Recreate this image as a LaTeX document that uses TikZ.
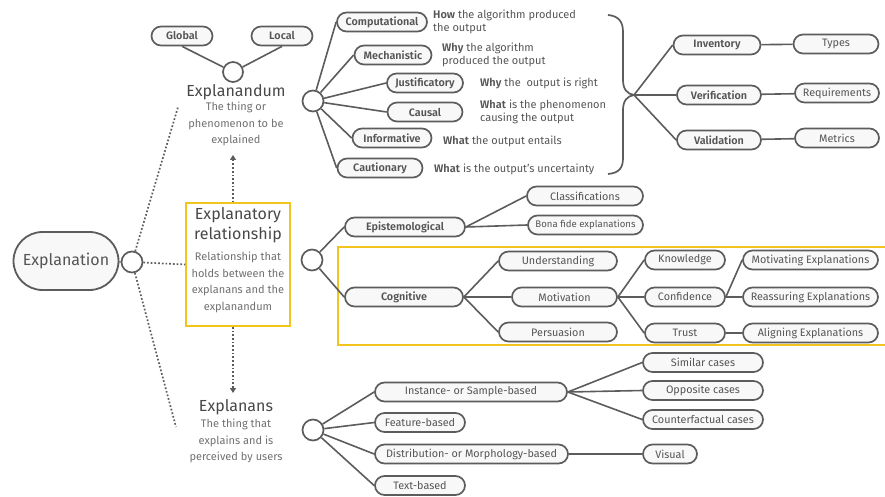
\documentclass[tikz,border=0pt]{standalone}
\usepackage{fontspec}
\setmainfont{Fira Sans}[BoldFont={Fira Sans SemiBold}]
\usetikzlibrary{arrows.meta}
\definecolor{linec}{HTML}{5C5C5C}
\definecolor{txt}{HTML}{555555}
\definecolor{subtxt}{HTML}{707070}
\definecolor{boxfill}{HTML}{F8F8F8}
\definecolor{gold}{HTML}{F2C41E}
\tikzset{
  pill/.style={draw=linec, line width=1.7pt, rectangle, rounded corners=9.5pt,
    fill=boxfill, text=txt, inner sep=0pt, minimum height=19pt,
    font=\fontsize{10.8}{12}\selectfont},
  hub/.style={draw=linec, line width=1.7pt, circle, fill=white,
    minimum size=21pt, inner sep=0pt},
  link/.style={draw=linec, line width=1.6pt},
  dotlink/.style={draw=linec, line width=1.7pt, dotted},
  desc/.style={anchor=west, align=left, text=txt, inner sep=0pt,
    font=\fontsize{11}{12.5}\selectfont},
  title/.style={text=txt!85!black, inner sep=0pt, font=\fontsize{16}{20}\selectfont},
  subtitle/.style={text=subtxt, inner sep=0pt, align=center,
    font=\fontsize{11}{16.5}\selectfont}
}
\begin{document}
\begin{tikzpicture}[x=1pt,y=-1pt]
\useasboundingbox (0,0) rectangle (885,497);

% ---- root ----
\node[draw=linec, line width=1.8pt, rounded corners=29pt, fill=boxfill,
  minimum width=105pt, minimum height=58pt, text=txt,
  font=\fontsize{16}{18}\selectfont] (root) at (66,261) {Explanation};
\node[hub] (c0) at (132,262) {};
\draw[link] (root) -- (c0);

% ---- explanandum ----
\node[pill, minimum width=61pt] (global) at (182,36) {\bfseries Global};
\node[pill, minimum width=61pt] (local) at (282,36) {\bfseries Local};
\node[hub, minimum size=20pt] (c1) at (233,72) {};
\draw[link] (global.south) -- (c1);
\draw[link] (local.south) -- (c1);
\node[title] (dumT) at (236,92) {Explanandum};
\node[subtitle, anchor=north] (dumS) at (236,102) {The thing or\\phenomenon to be\\explained};

% ---- explanatory relationship ----
\node[draw=gold, line width=1.6pt, fill=white, minimum width=104pt,
  minimum height=123pt, inner sep=0pt] (relbox) at (238,264.5) {};
\node[title, align=center, anchor=north] (relT) at (238,207) {Explanatory\\relationship};
\node[subtitle, anchor=north] (relS) at (238,252) {Relationship that\\holds between the\\explanans and the\\explanandum};

% ---- explanans ----
\node[title] (nsT) at (236,407) {Explanans};
\node[subtitle, anchor=north] (nsS) at (236,419) {The thing that\\explains and is\\perceived by users};

% dotted links
\coordinate (dTop) at (178,107);
\coordinate (dBot) at (176,427);
\coordinate (upTip) at (233,155);
\coordinate (downTip) at (233,393);
\draw[dotlink] (c0) -- (dTop);
\draw[dotlink] (c0) -- (dBot);
\draw[dotlink] (c0) -- (relbox.west);
\draw[dotlink, -{Triangle[length=5pt,width=6pt]}] (relbox.north -| upTip) -- (upTip);
\draw[dotlink, -{Triangle[length=5pt,width=6pt]}] (relbox.south -| downTip) -- (downTip);

% ---- types of explanation ----
\node[hub] (c2) at (313,101) {};
\node[pill, minimum width=90pt] (comp) at (382,22) {\bfseries Computational};
\node[pill, minimum width=77pt] (mech) at (393,55) {\bfseries Mechanistic};
\node[pill, minimum width=76pt] (just) at (425,83) {\bfseries Justificatory};
\node[pill, minimum width=75pt] (caus) at (425,112) {\bfseries Causal};
\node[pill, minimum width=79pt] (info) at (392,138) {\bfseries Informative};
\node[pill, minimum width=85pt] (caut) at (380,168) {\bfseries Cautionary};
\foreach \n in {comp,mech,just,caus,info,caut}
  \draw[link] (c2) -- (\n.west);

\node[desc] (compD) at (433,22) {\textbf{How} the algorithm produced\\the output};
\node[desc] (mechD) at (442,55) {\textbf{Why} the algorithm\\produced the output};
\node[desc] (justD) at (480,83) {\textbf{Why} the\ \ output is right};
\node[desc] (causD) at (480,112) {\textbf{What} is the phenomenon\\causing the output};
\node[desc] (infoD) at (443,141) {\textbf{What} the output entails};
\node[desc] (cautD) at (434,169) {\textbf{What} is the output's uncertainty};

% brace and evaluation
\draw[link, line width=1.7pt] (608,15) .. controls (619,16) and (623,22) .. (623,32)
  -- (623,80) .. controls (623,89) and (627,94) .. (634,95)
  .. controls (627,96) and (623,101) .. (623,110)
  -- (623,158) .. controls (623,168) and (619,173) .. (608,174);
\coordinate (tip) at (634,95);
\node[pill, minimum width=87pt] (inv) at (717,45) {\bfseries Inventory};
\node[pill, minimum width=84pt] (ver) at (719,95) {\bfseries Verification};
\node[pill, minimum width=84pt] (val) at (719,140) {\bfseries Validation};
\node[pill, minimum width=85pt] (typ) at (836,44) {Types};
\node[pill, minimum width=84pt] (req) at (837,93) {Requirements};
\node[pill, minimum width=84pt] (met) at (837,138) {Metrics};
\draw[link] (tip) -- (inv.west);
\draw[link] (tip) -- (ver.west);
\draw[link] (tip) -- (val.west);
\draw[link] (inv) -- (typ);
\draw[link] (ver) -- (req);
\draw[link] (val) -- (met);

% ---- relationship kinds ----
\draw[gold, line width=1.6pt] (892,247) -- (338,247) -- (338,345) -- (892,345);
\node[hub] (c3) at (312,260) {};
\node[pill, minimum width=120pt] (epi) at (405,227) {\bfseries Epistemological};
\node[pill, minimum width=118pt] (cog) at (404,297) {\bfseries Cognitive};
\draw[link] (c3) -- (epi.west);
\draw[link] (c3) -- (cog.west);
\node[pill, minimum width=116pt] (cls) at (585,196) {Classifications};
\node[pill, minimum width=115pt, font=\fontsize{9.6}{11}\selectfont] (bona) at (585.5,225) {Bona fide explanations};
\draw[link] (epi.east) -- (cls.west);
\draw[link] (epi.east) -- (bona.west);
\node[pill, minimum width=118pt] (und) at (558,261) {Understanding};
\node[pill, minimum width=105pt] (mot) at (564.5,297) {Motivation};
\node[pill, minimum width=118pt] (per) at (558,332) {Persuasion};
\draw[link] (cog.east) -- (und.west);
\draw[link] (cog.east) -- (mot.west);
\draw[link] (cog.east) -- (per.west);
\node[pill, minimum width=80pt] (kno) at (685,260) {Knowledge};
\node[pill, minimum width=80pt] (con) at (685,297) {Confidence};
\node[pill, minimum width=80pt] (tru) at (685,333) {Trust};
\draw[link] (mot.east) -- (kno.west);
\draw[link] (mot.east) -- (con.west);
\draw[link] (mot.east) -- (tru.west);
\node[pill, minimum width=135pt] (mex) at (810.5,260) {Motivating Explanations};
\node[pill, minimum width=135pt] (rex) at (810.5,297) {Reassuring Explanations};
\node[pill, minimum width=135pt] (aex) at (810.5,333) {Aligning Explanations};
\draw[link] (con.east) -- (mex.west);
\draw[link] (con) -- (rex);
\draw[link] (tru) -- (aex);

% ---- explanans kinds ----
\node[hub] (c4) at (313,430) {};
\node[pill, minimum width=192pt] (inst) at (471,392) {Instance- or Sample-based};
\node[pill, minimum width=90pt] (feat) at (420,422.5) {Feature-based};
\node[pill, minimum width=193pt] (dist) at (471.5,454) {Distribution- or Morphology-based};
\node[pill, minimum width=90pt] (text) at (420,485.5) {Text-based};
\foreach \n in {inst,feat,dist,text}
  \draw[link] (c4) -- (\n.west);
\node[pill, minimum width=120pt] (sim) at (703,362.5) {Similar cases};
\node[pill, minimum width=120pt] (opp) at (703,390.5) {Opposite cases};
\node[pill, minimum width=120pt] (cf) at (703,419.5) {Counterfactual cases};
\node[pill, minimum width=54pt] (vis) at (670,454) {Visual};
\draw[link] (inst.east) -- (sim.west);
\draw[link] (inst.east) -- (opp.west);
\draw[link] (inst.east) -- (cf.west);
\draw[link] (dist) -- (vis);
\end{tikzpicture}
\end{document}
